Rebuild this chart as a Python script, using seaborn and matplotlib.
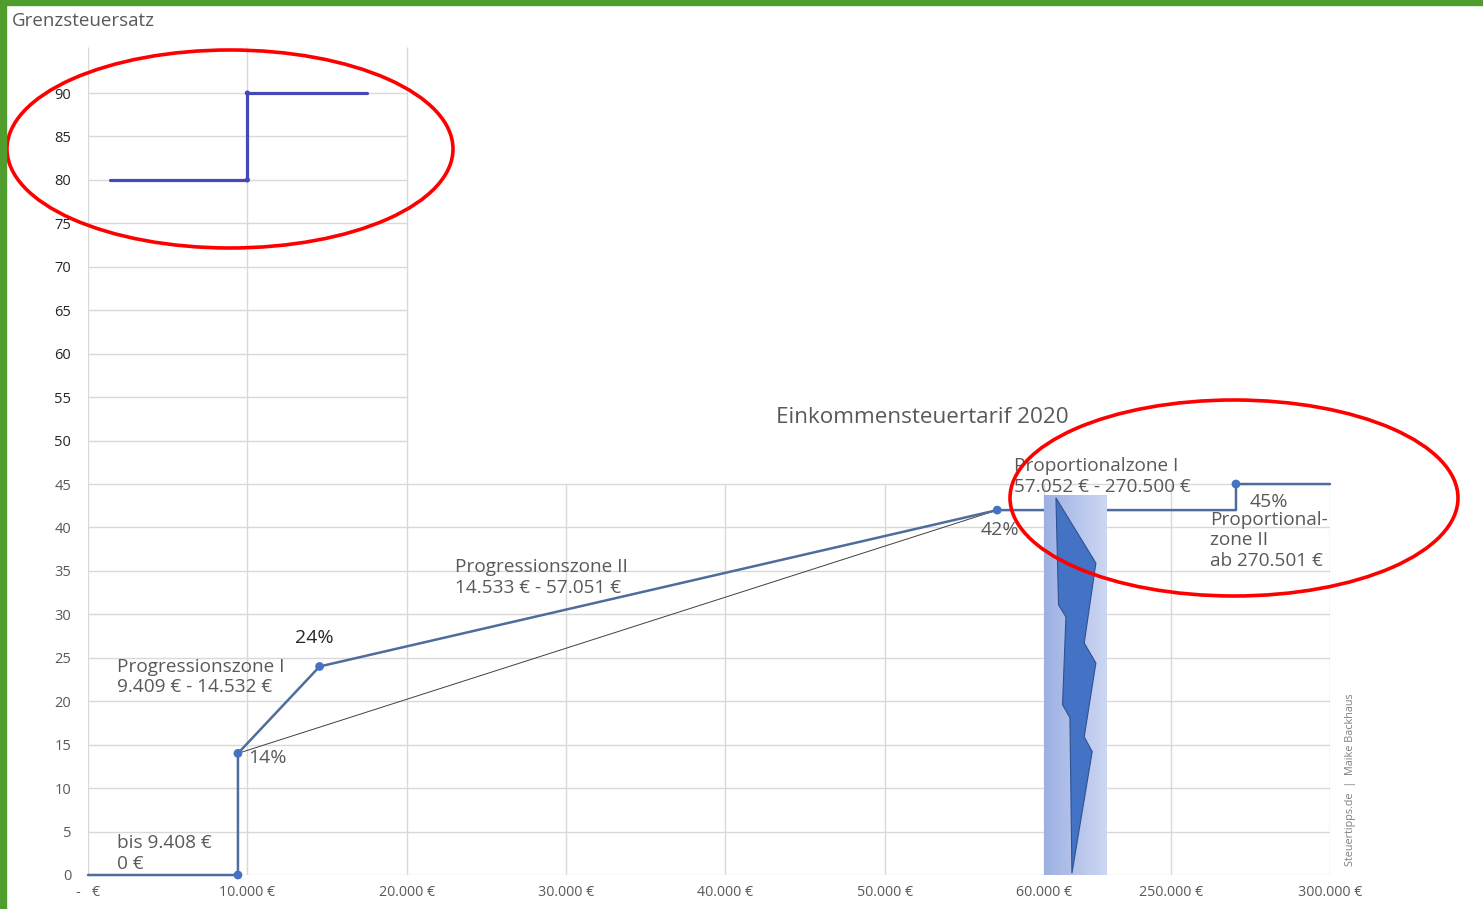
import numpy as np
import pandas as pd
import seaborn as sns
import matplotlib.pyplot as plt
from matplotlib.patches import Ellipse, Rectangle, Polygon

# Einkommensteuertarif 2020 - Grenzsteuersatz in %
tarif_x = [0, 9408, 9408, 14532, 57051, 270500, 270500, 300000]
tarif_y = [0, 0, 14, 24, 42, 42, 45, 45]
punkte_x = [9408, 9408, 14532, 57051, 270500]
punkte_y = [0, 14, 24, 42, 45]
linear_x = [9408, 57051]
linear_y = [14, 42]

# der zusaetzliche Stufen-Tarif oben links
oben_x = [1400, 10000, 10000, 17500]
oben_y = [80, 80, 90, 90]

x_ticks = [0, 10000, 20000, 30000, 40000, 50000, 60000, 250000, 300000]
x_labels = ["-   €", "10.000 €", "20.000 €", "30.000 €", "40.000 €",
            "50.000 €", "60.000 €", "250.000 €", "300.000 €"]
y_ticks = list(range(0, 95, 5))

# Achsenbruch (blaues Band mit Blitz)
band_x = [60000, 154600]
band_top = 43.7
blitz_x = [77600, 137650, 120080, 137650, 120080, 132100, 101600, 98600, 87490, 92600, 81480]
blitz_y = [43.4, 35.9, 26.7, 24.4, 15.9, 14.2, 0.2, 18.1, 19.6, 29.7, 31.1]

# gebrochene x-Achse: bis 60.000 linear, dann 250.000 und 300.000
K = 0.793


def fwd(x):
    x = np.asarray(x, dtype=float)
    return np.where(x <= 60000, x / 10000,
                    np.where(x <= 250000, 6 + K * (x - 60000) / 190000,
                             6 + K + (x - 250000) / 50000))


def inv(p):
    p = np.asarray(p, dtype=float)
    return np.where(p <= 6, p * 10000,
                    np.where(p <= 6 + K, 60000 + (p - 6) / K * 190000,
                             250000 + (p - 6 - K) * 50000))


sns.set_theme(style="white")
plt.rcParams["font.family"] = ["Open Sans", "DejaVu Sans"]

W, H = 1483, 909
fig = plt.figure(figsize=(W / 100, H / 100), dpi=100)
ax = fig.add_axes([88 / W, 34 / H, (1330 - 88) / W, (875 - 47) / H])
ax.set_xscale("function", functions=(fwd, inv))
ax.set_xlim(0, 300000)
ax.set_ylim(0, 95.3)
for s in ax.spines.values():
    s.set_visible(False)

grid = "#d9d9d9"
# Gitterlinien: unten komplett, oben nur bis 20.000
ax.hlines([v for v in y_ticks if v <= 45], 0, 300000, color=grid, lw=1, zorder=0)
ax.hlines([v for v in y_ticks if v > 45], 0, 20000, color=grid, lw=1, zorder=0)
ax.vlines([v for v in x_ticks if v <= 20000], 0, 95.3, color=grid, lw=1, zorder=0)
ax.vlines([v for v in x_ticks if v > 20000], 0, 45, color=grid, lw=1, zorder=0)

line_df = pd.DataFrame({"x": tarif_x, "y": tarif_y})
sns.lineplot(data=line_df, x="x", y="y", sort=False, estimator=None,
             color="#4f6d9c", lw=1.8, ax=ax, zorder=3, clip_on=False)
sns.lineplot(x=linear_x, y=linear_y, sort=False, estimator=None,
             color="#404040", lw=0.7, ax=ax, zorder=2)
sns.scatterplot(x=punkte_x, y=punkte_y, color="#4472c4", s=40, edgecolor="none",
                ax=ax, zorder=4, clip_on=False)
sns.lineplot(x=oben_x, y=oben_y, sort=False, estimator=None,
             color="#4548b8", lw=2.3, ax=ax, zorder=3)
sns.scatterplot(x=[10000, 10000], y=[80, 90], color="#4548b8", s=14, edgecolor="none",
                ax=ax, zorder=4)

# Band mit Farbverlauf
edges = np.linspace(band_x[0], band_x[1], 31)
c1 = np.array([0x9c, 0xb0, 0xe2]) / 255
c2 = np.array([0xcc, 0xd6, 0xf2]) / 255
for i in range(30):
    t = i / 29
    ax.fill_between([edges[i], edges[i + 1]], 0, band_top, color=c1 * (1 - t) + c2 * t,
                    lw=0, zorder=5)
ax.add_patch(Polygon(np.column_stack([blitz_x, blitz_y]), closed=True,
                     facecolor="#4472c4", edgecolor="#2f528f", lw=0.8, zorder=6))

ax.set_xticks(x_ticks)
ax.set_xticklabels(x_labels)
ax.set_yticks(y_ticks)
ax.set_yticklabels([str(v) for v in y_ticks])
ax.minorticks_off()
ax.tick_params(axis="x", length=0, pad=7, labelsize=10.3, labelcolor="#595959")
ax.tick_params(axis="y", length=0, pad=12, labelsize=10.5)
for lbl, v in zip(ax.get_yticklabels(), y_ticks):
    lbl.set_color("#262626" if v >= 50 else "#595959")
ax.set_xlabel("")
ax.set_ylabel("")

txt = dict(color="#595959", fontsize=13.7, linespacing=1.2, va="center", ha="left")
pct = dict(color="#595959", fontsize=14, ha="left", va="center")
ax.text(1800, 2.5, "bis 9.408 €\n0 €", **txt)
ax.text(1800, 22.8, "Progressionszone I\n9.409 € - 14.532 €", **txt)
ax.text(14223, 27.3, "24%", **{**pct, "color": "#262626", "ha": "center"})
ax.text(10025, 13.5, "14%", **pct)
ax.text(23000, 34.2, "Progressionszone II\n14.533 € - 57.051 €", **txt)
ax.text(56000, 39.7, "42%", **pct)
ax.text(58090, 45.9, "Proportionalzone I\n57.052 € - 270.500 €", zorder=7, **txt)
ax.text(274800, 42.9, "45%", **pct)
ax.text(262260, 38.5, "Proportional-\nzone II\nab 270.501 €", **txt)
ax.text(52380, 52.6, "Einkommensteuertarif 2020", color="#595959", fontsize=16.2,
        ha="center", va="center")

fig.text(12 / W, 1 - 21 / H, "Grenzsteuersatz", color="#595959", fontsize=13.5,
         ha="left", va="center")
fig.text(1351 / W, 1 - 780 / H, "Steuertipps.de  |  Maike Backhaus", color="#7f7f7f",
         fontsize=7.8, rotation=90, ha="center", va="center")

# rote Markierungen
for cx, cy, ew, eh in [(230, 149, 446, 198), (1234, 498, 448, 196)]:
    fig.add_artist(Ellipse((cx / W, 1 - cy / H), ew / W, eh / H, transform=fig.transFigure,
                           fill=False, edgecolor="#ff0000", lw=2.6, zorder=10))

# gruener Rahmen
fig.add_artist(Rectangle((0, 0), 6 / W, 1, transform=fig.transFigure, color="#4f9d2d", zorder=11))
fig.add_artist(Rectangle((0, 1 - 5 / H), 1, 5 / H, transform=fig.transFigure, color="#4f9d2d", zorder=11))

fig.savefig("out.png", dpi=100, facecolor="white")
